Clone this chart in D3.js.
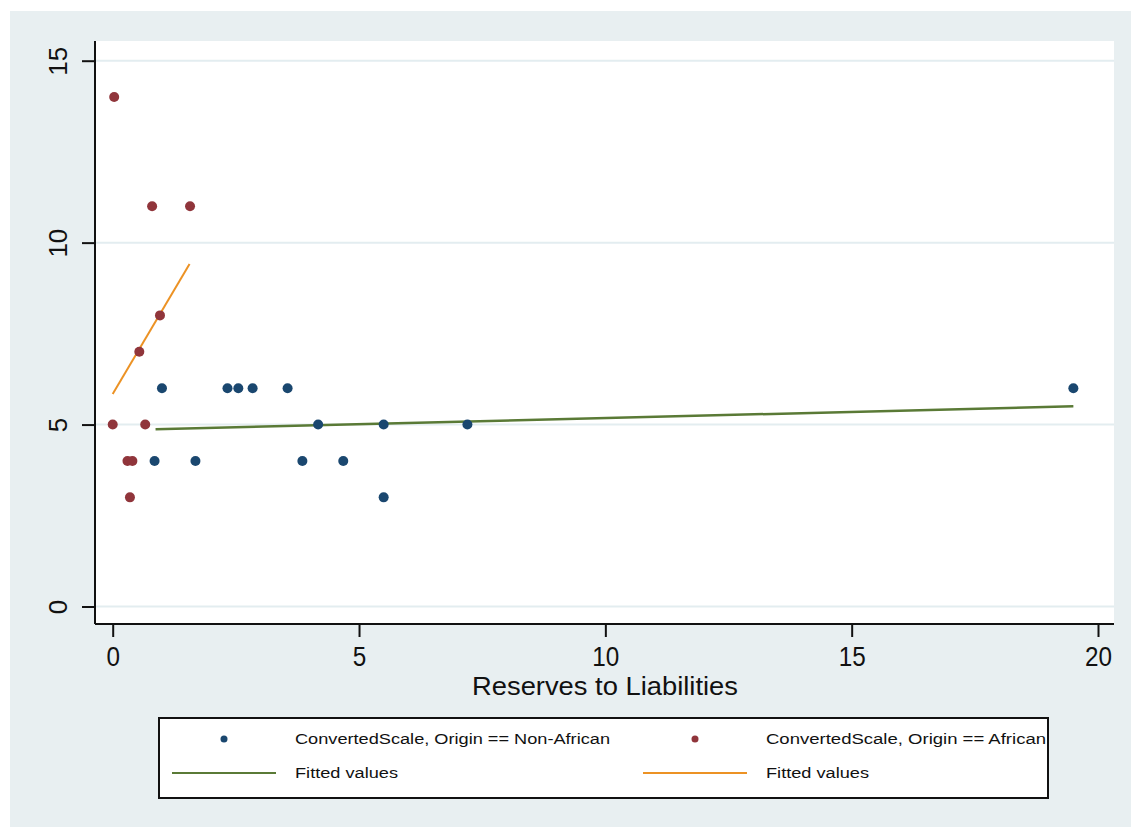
<!DOCTYPE html>
<html>
<head>
<meta charset="utf-8">
<script src="https://cdn.jsdelivr.net/npm/d3@7"></script>
<style>
  body { margin: 0; background: #fff; }
  text { font-family: "Liberation Sans", Arial, sans-serif; fill: #111; }
</style>
</head>
<body>
<svg id="chart" width="1131" height="827"></svg>
<script>
// Non-African countries
const nonAfricanX = [0.85, 1.0, 1.68, 2.33, 2.55, 2.84, 3.55, 3.85, 4.17, 4.68, 5.5, 5.5, 7.2, 19.5];
const nonAfricanY = [4, 6, 4, 6, 6, 6, 6, 4, 5, 4, 5, 3, 5, 6];
// African countries
const africanX = [0.03, 0.8, 1.57, 0.96, 0.54, 0.0, 0.66, 0.3, 0.4, 0.35];
const africanY = [14, 11, 11, 8, 7, 5, 5, 4, 4, 3];
// fitted lines (endpoints)
const fitNonAfricanX = [0.87, 19.5];
const fitNonAfricanY = [4.87, 5.5];
const fitAfricanX = [0.0, 1.56];
const fitAfricanY = [5.84, 9.41];

const xTicks = [0, 5, 10, 15, 20];
const yTicks = [0, 5, 10, 15];
const legendLabels = ["ConvertedScale, Origin == Non-African", "ConvertedScale, Origin == African", "Fitted values", "Fitted values"];

const svg = d3.select("#chart");
const blue = "#1a476f", red = "#90353b", green = "#5a7a36", orange = "#ec9224";

svg.append("rect").attr("x", 10).attr("y", 11).attr("width", 1121).attr("height", 816).attr("fill", "#e8eff1");

const plot = { left: 95, top: 41, right: 1114, bottom: 624 };
svg.append("rect")
    .attr("x", plot.left).attr("y", plot.top)
    .attr("width", plot.right - plot.left).attr("height", plot.bottom - plot.top)
    .attr("fill", "#fff");

const x = d3.scaleLinear().domain([0, 20]).range([112.7, 1098]);
const y = d3.scaleLinear().domain([0, 15]).range([606.5, 60.7]);

// gridlines
svg.append("g").selectAll("line")
    .data(yTicks)
    .join("line")
    .attr("x1", plot.left).attr("x2", plot.right)
    .attr("y1", d => y(d)).attr("y2", d => y(d))
    .attr("stroke", "#e3edf0").attr("stroke-width", 2);

// axes
const yAxis = svg.append("g")
    .attr("transform", `translate(${plot.left},0)`)
    .call(d3.axisLeft(y).tickValues(yTicks).tickSize(13).tickSizeOuter(0));
yAxis.select(".domain").attr("d", `M0,${plot.top}V${plot.bottom}`).attr("stroke", "#111").attr("stroke-width", 2);
yAxis.selectAll(".tick line").attr("stroke", "#111").attr("stroke-width", 2);
yAxis.selectAll(".tick text")
    .attr("font-size", 26)
    .attr("text-anchor", "middle")
    .attr("transform", "translate(-37,0) rotate(-90)")
    .attr("x", 0).attr("dy", "0.36em");

const xAxis = svg.append("g")
    .attr("transform", `translate(0,${plot.bottom})`)
    .call(d3.axisBottom(x).tickValues(xTicks).tickSize(13).tickPadding(10).tickSizeOuter(0));
xAxis.select(".domain").attr("d", `M${plot.left},0H${plot.right}`).attr("stroke", "#111").attr("stroke-width", 2);
xAxis.selectAll(".tick line").attr("stroke", "#111").attr("stroke-width", 2);
xAxis.selectAll(".tick text")
    .attr("font-size", 27)
    .attr("transform", "scale(0.9,1)");

svg.append("text")
    .attr("x", 472).attr("y", 695)
    .attr("font-size", 25)
    .attr("textLength", 266).attr("lengthAdjust", "spacingAndGlyphs")
    .text("Reserves to Liabilities");

// fitted lines
const line = d3.line().x(d => x(d[0])).y(d => y(d[1]));
svg.append("path")
    .datum(d3.zip(fitNonAfricanX, fitNonAfricanY))
    .attr("d", line).attr("fill", "none").attr("stroke", green).attr("stroke-width", 2.5);
svg.append("path")
    .datum(d3.zip(fitAfricanX, fitAfricanY))
    .attr("d", line).attr("fill", "none").attr("stroke", orange).attr("stroke-width", 2);

// points
svg.append("g").selectAll("circle")
    .data(d3.zip(nonAfricanX, nonAfricanY))
    .join("circle")
    .attr("cx", d => x(d[0])).attr("cy", d => y(d[1]))
    .attr("r", 5).attr("fill", blue);
svg.append("g").selectAll("circle")
    .data(d3.zip(africanX, africanY))
    .join("circle")
    .attr("cx", d => x(d[0])).attr("cy", d => y(d[1]))
    .attr("r", 5).attr("fill", red);

// legend
const lg = svg.append("g");
lg.append("rect").attr("x", 159).attr("y", 718).attr("width", 889).attr("height", 80)
    .attr("fill", "#fff").attr("stroke", "#111").attr("stroke-width", 2);
const legendItems = [
    { kind: "dot", color: blue, mx: 224, tx: 295, ty: 739, w: 315 },
    { kind: "dot", color: red, mx: 695, tx: 766, ty: 739, w: 280 },
    { kind: "line", color: green, mx: 172, tx: 295, ty: 773, w: 103 },
    { kind: "line", color: orange, mx: 643, tx: 766, ty: 773, w: 103 }
];
legendItems.forEach((it, i) => {
    if (it.kind === "dot") {
        lg.append("circle").attr("cx", it.mx).attr("cy", it.ty).attr("r", 3.5).attr("fill", it.color);
    } else {
        lg.append("line").attr("x1", it.mx).attr("x2", it.mx + 104)
            .attr("y1", it.ty).attr("y2", it.ty)
            .attr("stroke", it.color).attr("stroke-width", 2);
    }
    lg.append("text")
        .attr("x", it.tx).attr("y", it.ty + 5)
        .attr("font-size", 14)
        .attr("textLength", it.w).attr("lengthAdjust", "spacingAndGlyphs")
        .text(legendLabels[i]);
});
</script>
</body>
</html>
